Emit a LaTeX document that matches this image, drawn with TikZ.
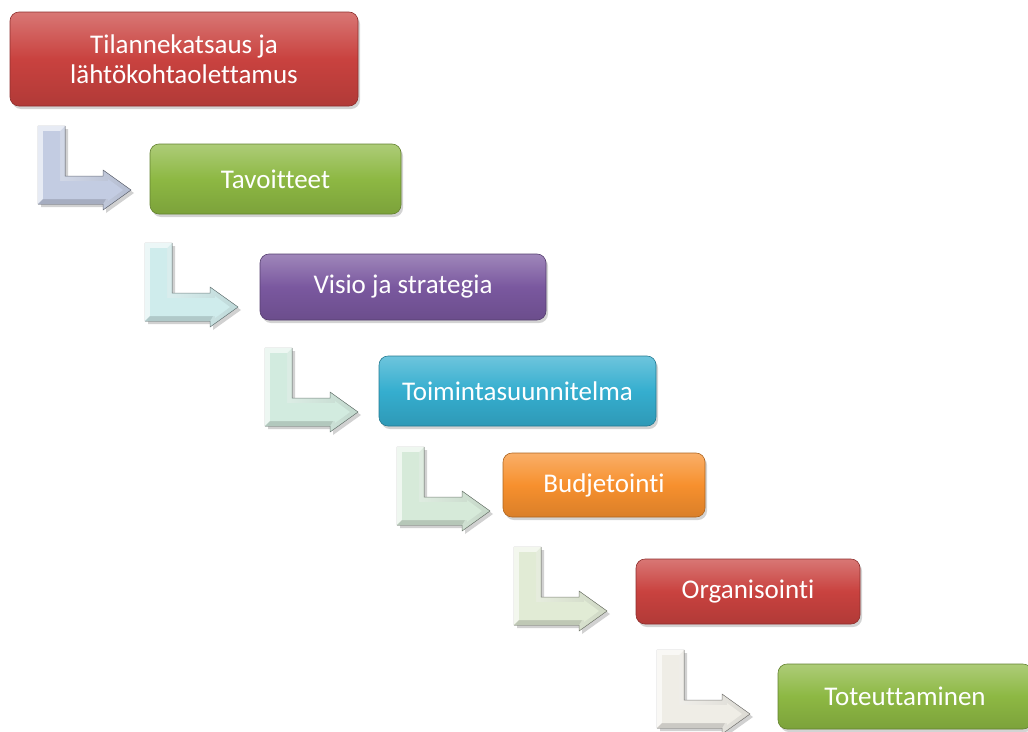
\documentclass[tikz,border=0pt]{standalone}
\usepackage{fontspec}
\setmainfont{Carlito}[Ligatures={NoCommon,NoContextual}]
\usetikzlibrary{shadows}
\definecolor{cred}{HTML}{C9423F}
\definecolor{cgreen}{HTML}{8DB843}
\definecolor{cpurple}{HTML}{7A589F}
\definecolor{ccyan}{HTML}{35AECF}
\definecolor{corange}{HTML}{F7902E}
\definecolor{aone}{HTML}{C3CCE2}
\definecolor{atwo}{HTML}{CFECEC}
\definecolor{athree}{HTML}{D2EBDF}
\definecolor{afour}{HTML}{D6EAD9}
\definecolor{afive}{HTML}{E1EBD5}
\definecolor{asix}{HTML}{EFEDE6}
\tikzset{
  stagebox/.style={rounded corners=9pt, draw=#1!70!black, line width=0.6pt,
    top color=#1!72!white, bottom color=#1!88!black, middle color=#1,
    text=white, inner sep=0pt, align=center,
    font=\fontsize{27}{30}\selectfont,
    drop shadow={shadow xshift=2pt, shadow yshift=-3pt, opacity=.35}},
}
\newcommand{\bentarr}[3]{%
  \begin{scope}[shift={(#1,#2)}]
    \fill[black, opacity=.18] (3,3) -- (30,3) -- (30,53) -- (68,53) -- (68,47) -- (96,67) -- (68,87) -- (68,81) -- (3,81) -- cycle;
    \fill[left color=#3!60!white, right color=#3!92!black, draw=#3!55!black, line width=0.5pt]
      (0,0) -- (27,0) -- (27,50) -- (65,50) -- (65,44) -- (93,64) -- (65,84) -- (65,78) -- (0,78) -- cycle;
    \fill[#3!40!white] (0,0) -- (27,0) -- (22,5) -- (5,5) -- (5,73) -- (0,78) -- cycle;
    \fill[#3!85!black] (0,78) -- (5,73) -- (68,73) -- (65,78) -- cycle;
    \fill[#3] (5,5) -- (22,5) -- (22,55) -- (70,55) -- (70,53) -- (85,64) -- (70,75) -- (70,73) -- (5,73) -- cycle;
  \end{scope}}
\begin{document}
\begin{tikzpicture}[x=1pt,y=-1pt]
\useasboundingbox (0,0) rectangle (1028,731);
\node[stagebox=cred, minimum width=348pt, minimum height=94pt] (b1) at (184,59) {Tilannekatsaus ja\\lähtökohtaolettamus};
\node[stagebox=cgreen, minimum width=251pt, minimum height=70pt] (b2) at (275.5,179) {Tavoitteet};
\node[stagebox=cpurple, minimum width=286pt, minimum height=66pt] (b3) at (403,287) {Visio ja strategia};
\node[stagebox=ccyan, minimum width=277pt, minimum height=70pt] (b4) at (517.5,391) {Toimintasuunnitelma};
\node[stagebox=corange, minimum width=202pt, minimum height=64pt] (b5) at (604,485) {Budjetointi};
\node[stagebox=cred, minimum width=224pt, minimum height=65pt] (b6) at (748,591.5) {Organisointi};
\node[stagebox=cgreen, minimum width=254pt, minimum height=65pt] (b7) at (905,696.5) {Toteuttaminen};
\bentarr{38}{126}{aone}
\bentarr{145}{243}{atwo}
\bentarr{265}{348}{athree}
\bentarr{397}{447}{afour}
\bentarr{514}{547}{afive}
\bentarr{657}{650}{asix}
\end{tikzpicture}
\end{document}
